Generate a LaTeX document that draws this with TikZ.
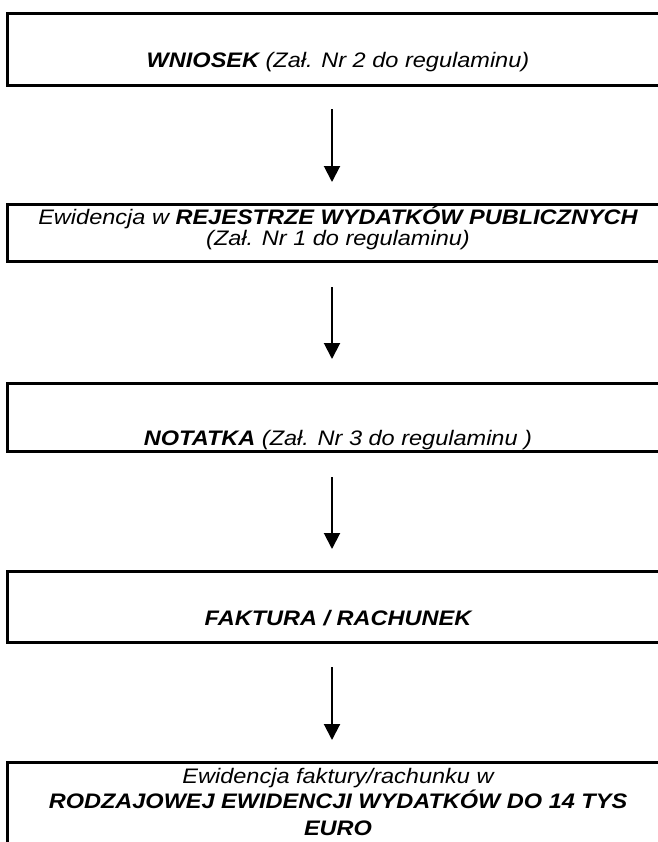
\documentclass[tikz,border=0pt]{standalone}
\usepackage{fontspec}
\setmainfont{Liberation Sans}[FakeStretch=1.12]
\usetikzlibrary{arrows.meta}
\tikzset{
  flowbox/.style={draw=black, line width=3bp, rectangle, minimum width=660bp, inner sep=0pt},
  txt/.style={inner sep=0pt, font=\fontsize{21bp}{24bp}\selectfont\itshape},
  arr/.style={line width=2bp, -{Triangle[width=16bp,length=16bp]}}
}
\begin{document}
\begin{tikzpicture}[x=1bp,y=-1bp]
\useasboundingbox (0,0) rectangle (658,842);
% boxes
\node[flowbox, minimum height=71bp] (b1) at (338,49.5) {};
\node[flowbox, minimum height=57bp] (b2) at (338,232.5) {};
\node[flowbox, minimum height=68bp] (b3) at (338,417) {};
\node[flowbox, minimum height=71bp] (b4) at (338,606.5) {};
\node[flowbox, minimum height=160bp] (b5) at (338,842) {};
% texts
\node[txt, anchor=base] (t1) at (338,67) {\textbf{WNIOSEK} (Zał. Nr 2 do regulaminu)};
\node[txt, anchor=base] (t2a) at (338,224) {Ewidencja w \textbf{REJESTRZE WYDATKÓW PUBLICZNYCH}};
\node[txt, anchor=base] (t2b) at (338,245) {(Zał. Nr 1 do regulaminu)};
\node[txt, anchor=base] (t3) at (338,445) {\textbf{NOTATKA} (Zał. Nr 3 do regulaminu )};
\node[txt, anchor=base] (t4) at (338,625) {\textbf{FAKTURA / RACHUNEK}};
\node[txt, anchor=base] (t5a) at (338,783) {Ewidencja faktury/rachunku w};
\node[txt, anchor=base] (t5b) at (338,808) {\textbf{RODZAJOWEJ EWIDENCJI WYDATKÓW DO 14 TYS}};
\node[txt, anchor=base] (t5c) at (338,835) {\textbf{EURO}};
% arrow end points
\coordinate (a1s) at (332,109);
\coordinate (a1e) at (332,182);
\coordinate (a2s) at (332,287);
\coordinate (a2e) at (332,359);
\coordinate (a3s) at (332,477);
\coordinate (a3e) at (332,549);
\coordinate (a4s) at (332,667);
\coordinate (a4e) at (332,740);
\draw[arr] (a1s) -- (a1e);
\draw[arr] (a2s) -- (a2e);
\draw[arr] (a3s) -- (a3e);
\draw[arr] (a4s) -- (a4e);
\end{tikzpicture}
\end{document}
